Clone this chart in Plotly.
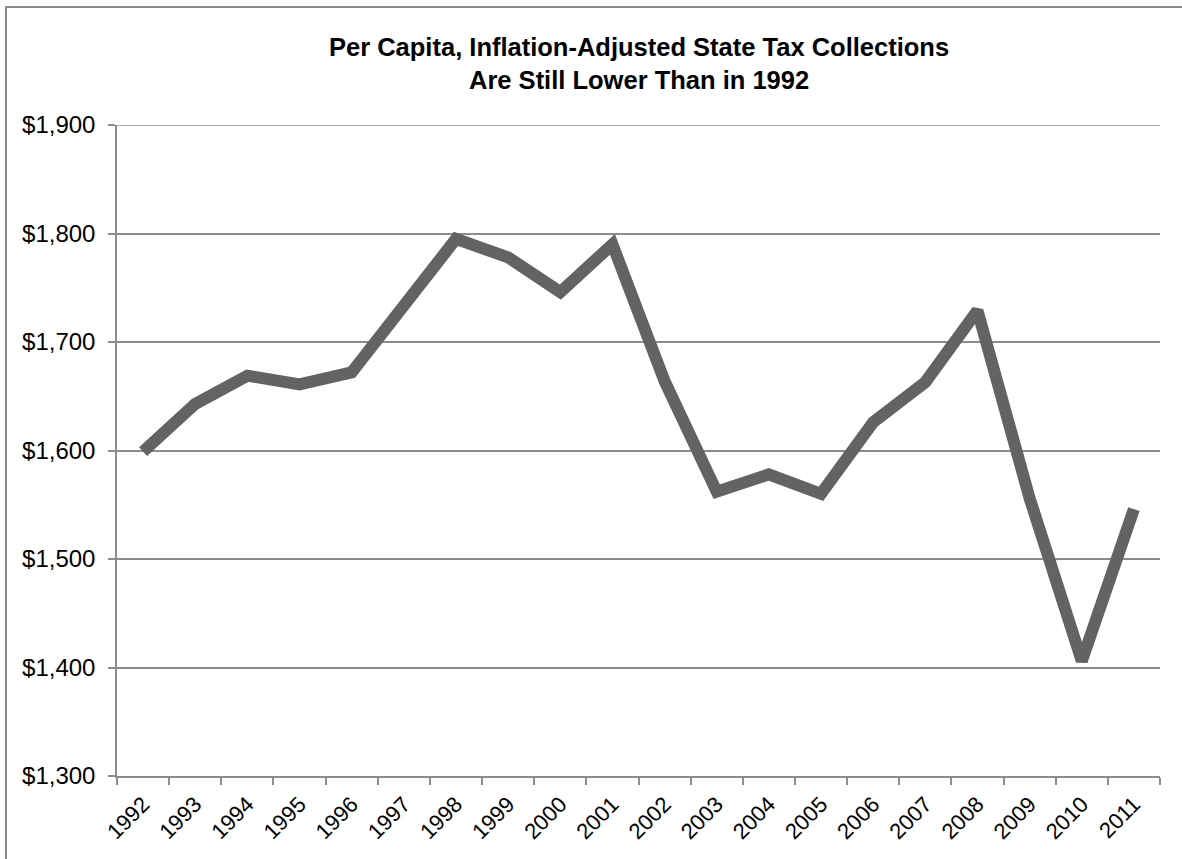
import plotly.graph_objects as go

years = [str(y) for y in range(1992, 2012)]
collections = [1599, 1643, 1669, 1661, 1672, 1733, 1795, 1778, 1746, 1790,
               1664, 1562, 1578, 1560, 1626, 1663, 1729, 1556, 1406, 1546]
title_lines = ["Per Capita, Inflation-Adjusted State Tax Collections",
               "Are Still Lower Than in 1992"]

W, H = 1182, 859
L, R, T, B = 117, 1160, 125, 776

fig = go.Figure()
fig.add_trace(go.Scatter(
    x=years, y=collections, mode="lines",
    line=dict(color="#636363", width=12),
    hoverinfo="x+y", showlegend=False,
))

pw, ph = R - L, B - T
def px_x(p): return (p - L) / pw
def px_y(p): return (B - p) / ph

fig.add_shape(type="rect", xref="paper", yref="paper",
              x0=px_x(6), x1=px_x(1200), y0=px_y(7), y1=px_y(900),
              line=dict(color="#8c8c8c", width=2), fillcolor="rgba(0,0,0,0)", layer="below")
# top gridline at the range end
fig.add_shape(type="line", xref="paper", yref="y", x0=0, x1=1, y0=1900, y1=1900,
              line=dict(color="#8c8c8c", width=1.5), layer="below")

fig.add_annotation(text="<b>" + "<br>".join(title_lines) + "</b>",
                   xref="paper", yref="paper", x=0.5, y=px_y(64),
                   xanchor="center", yanchor="middle", align="center", showarrow=False,
                   font=dict(family="Liberation Sans, Arial", size=25.5, color="black"))

fig.update_layout(
    width=W, height=H,
    margin=dict(l=L, r=W - R, t=T, b=H - B, pad=0),
    paper_bgcolor="white", plot_bgcolor="white",
    font=dict(family="Liberation Sans, Arial", color="black"),
    xaxis=dict(
        type="category", tickson="boundaries", ticks="outside", ticklen=7,
        tickcolor="#8c8c8c", tickwidth=1.5, showgrid=False,
        showline=True, linecolor="#8c8c8c", linewidth=1.5,
        tickangle=-45, tickfont=dict(size=22, color="black"), ticklabelstandoff=5,
        range=[-0.5, 19.5], fixedrange=True,
    ),
    yaxis=dict(
        range=[1300, 1900], dtick=100, tick0=1300, tickprefix="$", tickformat=",d",
        ticks="outside", ticklen=7, tickcolor="#8c8c8c", tickwidth=1.5,
        showgrid=True, gridcolor="#8c8c8c", gridwidth=1.5,
        showline=True, linecolor="#8c8c8c", linewidth=1.5, ticklabelstandoff=8,
        zeroline=False, tickfont=dict(size=24, color="black"), fixedrange=True,
    ),
)

fig.write_html("out.html")
